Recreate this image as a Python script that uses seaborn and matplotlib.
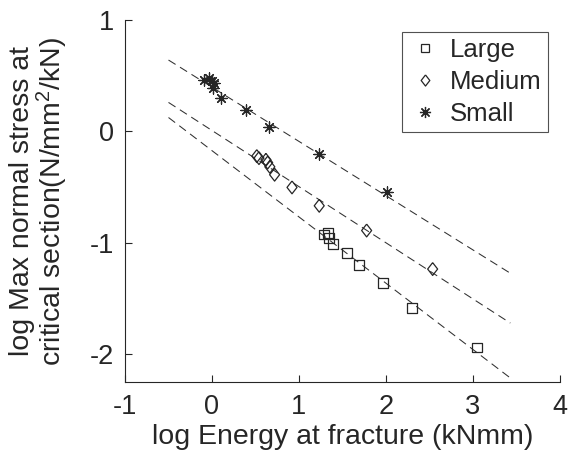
import numpy as np
import pandas as pd
import matplotlib
matplotlib.use("Agg")
import matplotlib.pyplot as plt
from matplotlib.lines import Line2D
import seaborn as sns

# ---- data ----
large_x = [1.29, 1.335, 1.35, 1.39, 1.55, 1.69, 1.97, 2.30, 3.05]
large_y = [-0.925, -0.912, -0.957, -1.008, -1.092, -1.203, -1.358, -1.586, -1.940]
medium_x = [0.515, 0.54, 0.62, 0.64, 0.665, 0.72, 0.92, 1.233, 1.778, 2.537]
medium_y = [-0.222, -0.24, -0.255, -0.28, -0.318, -0.389, -0.503, -0.668, -0.890, -1.236]
small_x = [-0.09, -0.03, 0.0, 0.02, 0.01, 0.10, 0.387, 0.66, 1.225, 2.009]
small_y = [0.465, 0.475, 0.45, 0.43, 0.39, 0.30, 0.195, 0.036, -0.200, -0.547]

groups = ["Large", "Medium", "Small"]
fit_intercept = [-0.173, 0.008, 0.397]
fit_slope = [-0.595, -0.504, -0.487]
fit_x_range = [-0.5, 3.43]

x_ticks = [-1, 0, 1, 2, 3, 4]
y_ticks = [-2, -1, 0, 1]

df = pd.DataFrame({
    "x": large_x + medium_x + small_x,
    "y": large_y + medium_y + small_y,
    "size": ["Large"] * len(large_x) + ["Medium"] * len(medium_x) + ["Small"] * len(small_x),
})

sns.set_theme(style="white")
plt.rcParams["font.family"] = ["Liberation Sans", "DejaVu Sans"]
plt.rcParams["mathtext.fontset"] = "custom"
plt.rcParams["mathtext.rm"] = "Liberation Sans"
plt.rcParams["mathtext.it"] = "Liberation Sans"

ink = "#262626"
fig = plt.figure(figsize=(5.69, 4.65), dpi=100)
ax = fig.add_axes([0.2197, 0.1785, 0.7643, 0.7785])

diamond = [(0, 1), (0.78, 0), (0, -1), (-0.78, 0), (0, 1)]
markers = {"Large": "s", "Medium": diamond, "Small": (8, 2, 0)}
sizes = {"Large": 50, "Medium": 85, "Small": 65}

# fitted dashed lines
xl = np.array(fit_x_range)
for g, a, b in zip(groups, fit_intercept, fit_slope):
    ax.plot(xl, a + b * xl, linestyle=(0, (8, 5)), color="#303030", linewidth=0.75, zorder=1)

for g in groups:
    sub = df[df["size"] == g]
    if g == "Small":
        sns.scatterplot(data=sub, x="x", y="y", marker=markers[g], s=sizes[g],
                        color=ink, edgecolor=ink, linewidth=0.9, ax=ax, zorder=3)
    else:
        sns.scatterplot(data=sub, x="x", y="y", marker=markers[g], s=sizes[g],
                        facecolor="none", edgecolor=ink, linewidth=0.9, ax=ax, zorder=3)

ax.set_xlim(-1, 4)
ax.set_ylim(-2.25, 1)
ax.set_xticks(x_ticks)
ax.set_yticks(y_ticks)
ax.set_xticklabels([str(t) for t in x_ticks])
ax.set_yticklabels([str(t) for t in y_ticks])
for s in ["top", "right"]:
    ax.spines[s].set_visible(False)
for s in ["left", "bottom"]:
    ax.spines[s].set_color(ink)
    ax.spines[s].set_linewidth(0.8)
ax.tick_params(axis="both", direction="in", length=5, width=0.8, colors=ink,
               labelsize=19.5, labelcolor=ink, left=True, bottom=True)
ax.tick_params(axis="x", pad=9)
ax.tick_params(axis="y", pad=8)

ax.set_xlabel("log Energy at fracture (kNmm)", fontsize=20.5, color=ink)
ax.xaxis.set_label_coords(0.5, -0.116)
ax.set_ylabel("log Max normal stress at\ncritical section(N/mm$^2$/kN)", fontsize=20.5,
              color=ink, linespacing=1.0)
ax.yaxis.set_label_coords(-0.126, 0.5)

handles = [
    Line2D([], [], linestyle="none", marker="s", markersize=6, markerfacecolor="none",
           markeredgecolor=ink, markeredgewidth=0.9),
    Line2D([], [], linestyle="none", marker=diamond, markersize=8, markerfacecolor="none",
           markeredgecolor=ink, markeredgewidth=0.9),
    Line2D([], [], linestyle="none", marker=(8, 2, 0), markersize=8,
           markeredgecolor=ink, markeredgewidth=0.9),
]
leg = ax.legend(handles, groups, loc="upper right", bbox_to_anchor=(548 / 569, 1 - 32 / 465),
                bbox_transform=fig.transFigure,
                fontsize=18.5, frameon=True, fancybox=False, edgecolor=ink,
                handlelength=1.3, handletextpad=0.3, borderpad=0.25, labelspacing=0.3,
                borderaxespad=0)
leg.get_frame().set_linewidth(0.8)
for t in leg.get_texts():
    t.set_color(ink)

fig.savefig("out.png", dpi=100)
